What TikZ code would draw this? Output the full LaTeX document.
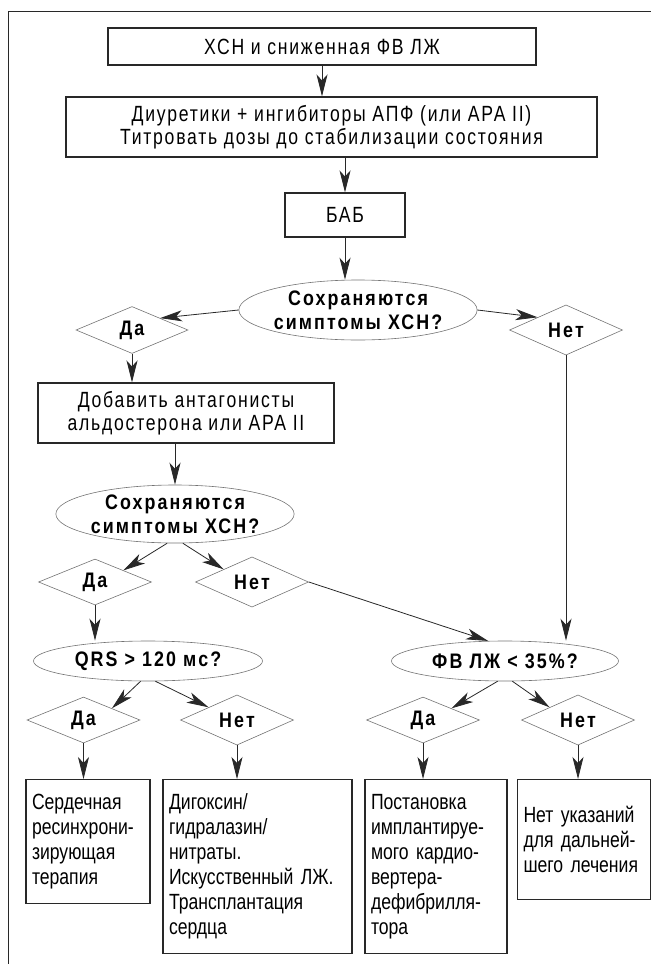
\documentclass[tikz,border=0pt]{standalone}
\usepackage{fontspec}
\setmainfont{Liberation Sans}[FakeStretch=0.8]
\newfontfamily\wideface{Liberation Sans}[FakeStretch=0.8, LetterSpace=8]
\newfontfamily\keyface{Liberation Sans}[FakeStretch=0.85, LetterSpace=10]
\usetikzlibrary{shapes.geometric, arrows.meta}
\definecolor{framegray}{RGB}{40,40,40}
\definecolor{shapegray}{RGB}{115,115,115}

\begin{document}
\begin{tikzpicture}[x=1pt, y=-1pt,
  every node/.style={font=\wideface\fontsize{22}{23.5}\selectfont, text=black},
  stepbox/.style={draw=framegray, line width=1.1pt, rectangle, inner sep=0pt, align=center},
  endbox/.style={draw=framegray, line width=1.1pt, rectangle, anchor=north, align=left, inner xsep=6pt, inner ysep=0pt, font=\normalfont\fontsize{22}{25}\selectfont},
  question/.style={draw=shapegray, line width=0.6pt, ellipse, inner sep=0pt, align=center, font=\keyface\bfseries\fontsize{21}{24}\selectfont},
  answer/.style={draw=shapegray, line width=0.6pt, diamond, inner sep=0pt, minimum width=113pt, minimum height=46pt, font=\keyface\bfseries\fontsize{21}{24}\selectfont},
  flow/.style={-{Stealth[length=22pt, width=11pt, inset=6pt]}, line width=0.8pt, draw=framegray}]
\useasboundingbox (0,0) rectangle (651,964);
% frame
\draw[framegray, line width=1pt] (8,964) -- (8,11) -- (651,11);

% start of therapy
\node[stepbox, minimum width=428pt, minimum height=37pt] (hsn) at (322,46.5) {ХСН и сниженная ФВ ЛЖ};
\node[stepbox, minimum width=531pt, minimum height=60pt] (diur) at (331.5,127) {Диуретики + ингибиторы АПФ (или АРА II)\\Титровать дозы до стабилизации состояния};
\node[stepbox, minimum width=120pt, minimum height=44pt] (bab) at (345,215) {БАБ};

% first question
\node[question, minimum width=230pt, minimum height=60pt] (sympt1) at (358,310) {Сохраняются\\симптомы ХСН?};
\node[answer, minimum width=112pt, minimum height=47pt] (da1) at (132,330) {Да};
\node[answer, minimum height=47pt] (net1) at (566,330) {Нет};
\node[stepbox, minimum width=296pt, minimum height=60pt] (antag) at (186,413) {Добавить антагонисты\\альдостерона или АРА II};

% second question
\node[question, minimum width=226pt, minimum height=58pt] (sympt2) at (175,514) {Сохраняются\\симптомы ХСН?};
\node[answer] (da2) at (95,582) {Да};
\node[answer] (net2) at (252,582) {Нет};

% QRS and LV ejection fraction
\node[question, minimum width=229pt, minimum height=40pt] (qrs) at (148,661) {QRS > 120 мс?};
\node[question, minimum width=227pt, minimum height=40pt] (fv) at (505,661) {ФВ ЛЖ < 35\%?};
\node[answer] (da3) at (83.5,720) {Да};
\node[answer] (net3) at (237,720) {Нет};
\node[answer] (da4) at (423,720) {Да};
\node[answer] (net4) at (578,720) {Нет};

% outcomes
\node[endbox, text width=112pt, minimum height=124pt] (crt) at (88,779) {Сердечная\\ресинхрони-\\зирующая\\терапия};
\node[endbox, text width=177pt, minimum height=174pt] (digox) at (257.5,779) {Дигоксин/\\гидралазин/\\нитраты.\\Искусственный ЛЖ.\\Трансплантация\\сердца};
\node[endbox, text width=130pt, minimum height=174pt] (icd) at (436,779) {Постановка\\имплантируе-\\мого кардио-\\вертера-\\дефибрилля-\\тора};
\node[endbox, text width=121pt, minimum height=120pt] (none) at (584,779) {Нет указаний\\для дальней-\\шего лечения};

% arrows
\draw[flow] (hsn.south) -- (hsn.south |- diur.north);
\draw[flow] (bab.north |- diur.south) -- (bab.north);
\draw[flow] (bab.south) -- (bab.south |- sympt1.north);
\draw[flow] (sympt1.west) -- (da1.north east);
\draw[flow] (sympt1.east) -- (net1.north west);
\draw[flow] (da1.south) -- (da1.south |- antag.north);
\draw[flow] (antag.south -| sympt2.north) -- (sympt2.north);
\draw[flow] (sympt2.255) -- (da2.north east);
\draw[flow] (sympt2.285) -- (net2.north west);
\draw[flow] (net1.south) -- (net1.south |- fv.north);
\draw[flow] (net2.east) -- (fv.130);
\draw[flow] (da2.south) -- (da2.south |- qrs.north);
\draw[flow] (qrs.250) -- (da3.north east);
\draw[flow] (qrs.290) -- (net3.north west);
\draw[flow] (fv.250) -- (da4.north east);
\draw[flow] (fv.290) -- (net4.north west);
\draw[flow] (da3.south) -- (da3.south |- crt.north);
\draw[flow] (net3.south) -- (net3.south |- digox.north);
\draw[flow] (da4.south) -- (da4.south |- icd.north);
\draw[flow] (net4.south) -- (net4.south |- none.north);
\end{tikzpicture}
\end{document}
